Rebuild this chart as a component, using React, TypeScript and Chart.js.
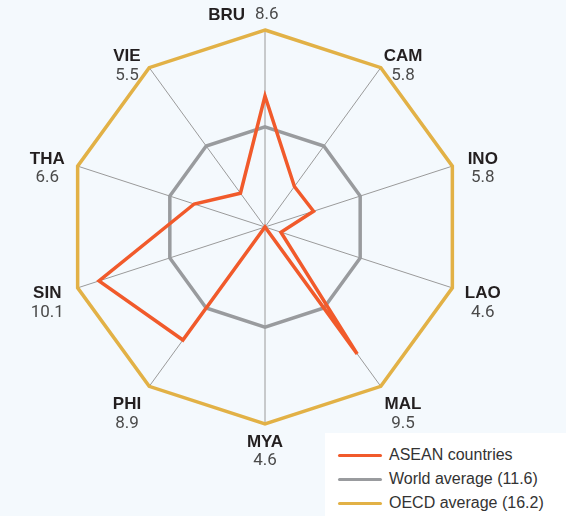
import React, { useEffect, useRef } from "react";
import { Chart, registerables } from "chart.js";

Chart.register(...registerables);

const categories = ["BRU", "CAM", "INO", "LAO", "MAL", "MYA", "PHI", "SIN", "THA", "VIE"];
const categoryValueLabels = ["8.6", "5.8", "5.8", "4.6", "9.5", "4.6", "8.9", "10.1", "6.6", "5.5"];
// plotted index (OECD average = 100)
const aseanValues = [66.5, 25.4, 25.9, 8.5, 79.6, 0, 70.9, 88.6, 37.8, 21.2];
const worldValues = [50.8, 50.8, 50.8, 50.8, 50.8, 50.8, 50.8, 50.8, 50.8, 50.8];
const oecdValues = [100, 100, 100, 100, 100, 100, 100, 100, 100, 100];
const seriesNames = ["ASEAN countries", "World average (11.6)", "OECD average (16.2)"];
const seriesColors = ["#f15a2b", "#999b9e", "#e2b146"];

const BG = "#f4f9fd";

const axisLabelPlugin = {
  id: "axisLabels",
  afterDraw(chart: any) {
    const scale = chart.scales.r;
    const ctx = chart.ctx;
    const r = scale.drawingArea;
    ctx.save();
    ctx.textBaseline = "middle";
    categories.forEach((name, i) => {
      const p = scale.getPointPosition(i, r);
      const ang = p.angle + Math.PI / 2;
      const s = Math.sin(ang);
      const c = Math.cos(ang);
      if (i === 0) {
        const y = p.y - 15;
        ctx.font = "bold 17px 'Liberation Sans', Arial, sans-serif";
        ctx.fillStyle = "#231f20";
        ctx.textAlign = "right";
        ctx.fillText(name, p.x - 20, y);
        ctx.font = "17px Roboto, 'Liberation Sans', sans-serif";
        ctx.fillStyle = "#4a4a4a";
        ctx.textAlign = "left";
        ctx.fillText(categoryValueLabels[i], p.x - 10, y);
        return;
      }
      const sign = Math.abs(s) < 0.01 ? 0 : Math.sign(s);
      const x = p.x + sign * (9 + 22.5 * Math.abs(s));
      const dy = c > 0.5 ? -1.5 : c > 0 ? 2.5 : c > -0.5 ? 15 : 27.5;
      const cy = p.y + dy;
      ctx.textAlign = "center";
      ctx.font = "bold 17px 'Liberation Sans', Arial, sans-serif";
      ctx.fillStyle = "#231f20";
      ctx.fillText(name, x, cy - 9.5);
      ctx.font = "17px Roboto, 'Liberation Sans', sans-serif";
      ctx.fillStyle = "#4a4a4a";
      ctx.fillText(categoryValueLabels[i], x, cy + 9.5);
    });
    ctx.restore();
  },
};

export default function App() {
  const canvasRef = useRef<HTMLCanvasElement | null>(null);

  useEffect(() => {
    if (!canvasRef.current) return;
    const mk = (data: number[], idx: number) => ({
      label: seriesNames[idx],
      data,
      borderColor: seriesColors[idx],
      backgroundColor: seriesColors[idx],
      borderWidth: 3.5,
      pointRadius: 0,
      pointHoverRadius: 0,
      fill: false,
      tension: 0,
      borderJoinStyle: "miter" as const,
    });
    const chart = new Chart(canvasRef.current, {
      type: "radar",
      data: {
        labels: categories,
        datasets: [mk(aseanValues, 0), mk(worldValues, 1), mk(oecdValues, 2)],
      },
      options: {
        animation: false,
        responsive: false,
        maintainAspectRatio: false,
        layout: { padding: { left: 68, right: 104, top: 30, bottom: 92 } },
        plugins: { legend: { display: false }, tooltip: { enabled: false } },
        scales: {
          r: {
            min: 0,
            max: 100,
            ticks: { display: false },
            grid: { display: false },
            angleLines: { display: true, color: "#9a9a9a", lineWidth: 1 },
            pointLabels: { display: false },
          },
        },
      },
      plugins: [axisLabelPlugin],
    });
    return () => chart.destroy();
  }, []);

  return (
    <div style={{ position: "absolute", left: 0, top: 0, width: 566, height: 516, background: BG, overflow: "hidden" }}>
      <canvas ref={canvasRef} width={566} height={516} style={{ position: "absolute", left: 0, top: 0 }} />
      <div
        style={{
          position: "absolute",
          left: 325,
          top: 433,
          width: 241,
          height: 83,
          background: "#ffffff",
          fontFamily: "'Liberation Sans', Arial, sans-serif",
          fontSize: 16,
          color: "#333333",
        }}
      >
        {seriesNames.map((name, i) => (
          <div
            key={name}
            style={{ position: "absolute", left: 13, top: 12 + i * 24, height: 20, display: "flex", alignItems: "center", whiteSpace: "nowrap" }}
          >
            <div style={{ width: 44, height: 3, borderRadius: 1.5, background: seriesColors[i], marginRight: 7 }} />
            <span>{name}</span>
          </div>
        ))}
      </div>
    </div>
  );
}
